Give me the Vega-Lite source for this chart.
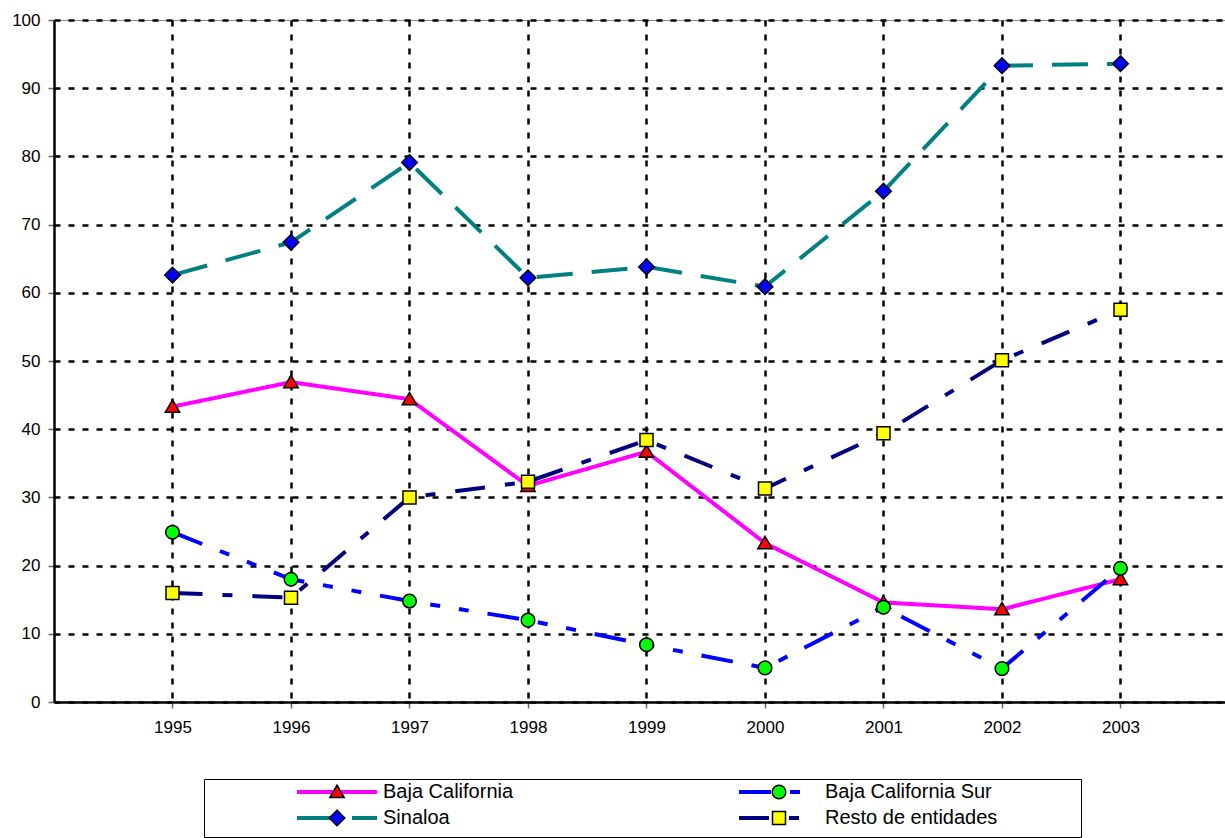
{
  "$schema": "https://vega.github.io/schema/vega-lite/v6.json",
  "width": 1171,
  "height": 682,
  "autosize": {"type": "none"},
  "padding": {"left": 54, "top": 20, "right": 0, "bottom": 136},
  "background": "white",
  "config": {
    "view": {"stroke": "#888888", "strokeWidth": 1},
    "font": "Liberation Sans",
    "axis": {"labelFont": "Liberation Sans"},
    "legend": {"labelFont": "Liberation Sans", "titleFont": "Liberation Sans"}
  },
  "data": {
    "values": [
      {"year": 1995, "series": "Baja California", "value": 43.3},
      {"year": 1996, "series": "Baja California", "value": 46.9},
      {"year": 1997, "series": "Baja California", "value": 44.4},
      {"year": 1998, "series": "Baja California", "value": 31.7},
      {"year": 1999, "series": "Baja California", "value": 36.7},
      {"year": 2000, "series": "Baja California", "value": 23.3},
      {"year": 2001, "series": "Baja California", "value": 14.6},
      {"year": 2002, "series": "Baja California", "value": 13.6},
      {"year": 2003, "series": "Baja California", "value": 18.0},
      {"year": 1995, "series": "Baja California Sur", "value": 24.9},
      {"year": 1996, "series": "Baja California Sur", "value": 18.0},
      {"year": 1997, "series": "Baja California Sur", "value": 14.8},
      {"year": 1998, "series": "Baja California Sur", "value": 12.0},
      {"year": 1999, "series": "Baja California Sur", "value": 8.4},
      {"year": 2000, "series": "Baja California Sur", "value": 5.0},
      {"year": 2001, "series": "Baja California Sur", "value": 13.9},
      {"year": 2002, "series": "Baja California Sur", "value": 4.9},
      {"year": 2003, "series": "Baja California Sur", "value": 19.6},
      {"year": 1995, "series": "Sinaloa", "value": 62.6},
      {"year": 1996, "series": "Sinaloa", "value": 67.4},
      {"year": 1997, "series": "Sinaloa", "value": 79.1},
      {"year": 1998, "series": "Sinaloa", "value": 62.2},
      {"year": 1999, "series": "Sinaloa", "value": 63.8},
      {"year": 2000, "series": "Sinaloa", "value": 60.9},
      {"year": 2001, "series": "Sinaloa", "value": 74.9},
      {"year": 2002, "series": "Sinaloa", "value": 93.3},
      {"year": 2003, "series": "Sinaloa", "value": 93.6},
      {"year": 1995, "series": "Resto de entidades", "value": 16.0},
      {"year": 1996, "series": "Resto de entidades", "value": 15.3},
      {"year": 1997, "series": "Resto de entidades", "value": 30.0},
      {"year": 1998, "series": "Resto de entidades", "value": 32.3},
      {"year": 1999, "series": "Resto de entidades", "value": 38.4},
      {"year": 2000, "series": "Resto de entidades", "value": 31.3},
      {"year": 2001, "series": "Resto de entidades", "value": 39.4},
      {"year": 2002, "series": "Resto de entidades", "value": 50.1},
      {"year": 2003, "series": "Resto de entidades", "value": 57.5}
    ]
  },
  "encoding": {
    "x": {
      "field": "year",
      "type": "quantitative",
      "scale": {"domain": [1994, 2003.882], "nice": false, "zero": false},
      "axis": {
        "values": [1995, 1996, 1997, 1998, 1999, 2000, 2001, 2002, 2003],
        "format": "d",
        "title": null,
        "grid": true,
        "gridColor": "black",
        "gridDash": [6, 8],
        "gridWidth": 2.5,
        "gridOpacity": 1,
        "domainColor": "black",
        "domainWidth": 2.5,
        "tickColor": "#666666",
        "tickSize": 6,
        "tickWidth": 1.5,
        "labelFontSize": 17,
        "labelColor": "black",
        "labelPadding": 11,
        "labelFlush": false
      }
    },
    "y": {
      "field": "value",
      "type": "quantitative",
      "scale": {"domain": [0, 100], "nice": false},
      "axis": {
        "values": [0, 10, 20, 30, 40, 50, 60, 70, 80, 90, 100],
        "title": null,
        "grid": true,
        "gridColor": "black",
        "gridDash": [6, 8],
        "gridWidth": 2.5,
        "gridOpacity": 1,
        "domainColor": "black",
        "domainWidth": 2.5,
        "tickColor": "#666666",
        "tickSize": 6,
        "tickWidth": 1.5,
        "labelFontSize": 17,
        "labelColor": "black",
        "labelPadding": 8,
        "labelFlush": false
      }
    }
  },
  "layer": [
    {
      "mark": {"type": "line", "strokeWidth": 4, "opacity": 1},
      "encoding": {
        "color": {
          "field": "series",
          "type": "nominal",
          "scale": {
            "domain": ["Baja California", "Sinaloa", "Baja California Sur", "Resto de entidades"],
            "range": ["#FF00FF", "#008080", "#0000FF", "#000080"]
          },
          "legend": {
            "title": null,
            "orient": "none",
            "legendX": 150,
            "legendY": 759,
            "columns": 2,
            "columnPadding": 135,
            "rowPadding": 6,
            "padding": 3,
            "clipHeight": 20,
            "symbolType": "M-4,0H4",
            "symbolSize": 400,
            "symbolStrokeWidth": 4,
            "symbolOffset": 118,
            "labelOffset": 34,
            "labelFontSize": 20,
            "labelColor": "black",
            "labelLimit": 600,
            "gridAlign": "each"
          }
        },
        "strokeDash": {
          "field": "series",
          "type": "nominal",
          "scale": {
            "domain": ["Baja California", "Sinaloa", "Baja California Sur", "Resto de entidades"],
            "range": [[1, 0], [36, 19], [32, 19, 10, 19, 10, 19], [30, 20, 10, 20]]
          },
          "legend": {
            "title": null,
            "orient": "none",
            "legendX": 150,
            "legendY": 759,
            "columns": 2,
            "columnPadding": 135,
            "rowPadding": 6,
            "padding": 3,
            "clipHeight": 20,
            "symbolType": "M-4,0H4",
            "symbolSize": 400,
            "symbolStrokeWidth": 4,
            "symbolOffset": 118,
            "labelOffset": 34,
            "labelFontSize": 20,
            "labelColor": "black",
            "labelLimit": 600,
            "gridAlign": "each"
          }
        }
      }
    },
    {
      "mark": {"type": "point", "filled": true, "size": 400, "strokeWidth": 1.5, "opacity": 1},
      "encoding": {
        "fill": {
          "field": "series",
          "type": "nominal",
          "scale": {
            "domain": ["Baja California", "Sinaloa", "Baja California Sur", "Resto de entidades", "-"],
            "range": ["#FF0000", "#0000FF", "#00FF00", "#FFFF00", "#FFFFFF"]
          },
          "legend": {
            "values": ["Baja California", "Sinaloa", "Baja California Sur", "Resto de entidades"],
            "title": " ",
            "titleOrient": "bottom",
            "titleFontSize": 6,
            "titlePadding": 0,
            "orient": "none",
            "legendX": 150,
            "legendY": 759,
            "columns": 2,
            "columnPadding": 135,
            "rowPadding": 6,
            "padding": 3,
            "clipHeight": 20,
            "symbolSize": 400,
            "symbolStrokeWidth": 1.5,
            "symbolOpacity": 1,
            "symbolOffset": 119,
            "labelOffset": 35,
            "labelFontSize": 20,
            "labelOpacity": 0,
            "labelLimit": 800,
            "labelExpr": "datum.label == 'Resto de entidades' ? datum.label + '\u00a0\u00a0\u00a0\u00a0\u00a0\u00a0\u00a0\u00a0\u00a0\u00a0\u00a0\u00a0X' : datum.label",
            "strokeColor": "black",
            "gridAlign": "each"
          }
        },
        "stroke": {
          "field": "series",
          "type": "nominal",
          "scale": {
            "domain": ["Baja California", "Sinaloa", "Baja California Sur", "Resto de entidades", "-"],
            "range": ["#000000", "#000000", "#000000", "#000000", "#000000"]
          },
          "legend": {
            "values": ["Baja California", "Sinaloa", "Baja California Sur", "Resto de entidades"],
            "title": " ",
            "titleOrient": "bottom",
            "titleFontSize": 6,
            "titlePadding": 0,
            "orient": "none",
            "legendX": 150,
            "legendY": 759,
            "columns": 2,
            "columnPadding": 135,
            "rowPadding": 6,
            "padding": 3,
            "clipHeight": 20,
            "symbolSize": 400,
            "symbolStrokeWidth": 1.5,
            "symbolOpacity": 1,
            "symbolOffset": 119,
            "labelOffset": 35,
            "labelFontSize": 20,
            "labelOpacity": 0,
            "labelLimit": 800,
            "labelExpr": "datum.label == 'Resto de entidades' ? datum.label + '\u00a0\u00a0\u00a0\u00a0\u00a0\u00a0\u00a0\u00a0\u00a0\u00a0\u00a0\u00a0X' : datum.label",
            "strokeColor": "black",
            "gridAlign": "each"
          }
        },
        "shape": {
          "field": "series",
          "type": "nominal",
          "scale": {
            "domain": ["Baja California", "Sinaloa", "Baja California Sur", "Resto de entidades", "-"],
            "range": [
              "M0,-0.68L0.72,0.56L-0.72,0.56Z",
              "M0,-0.78L0.78,0L0,0.78L-0.78,0Z",
              "M0.68,0A0.68,0.68,0,1,1,-0.68,0A0.68,0.68,0,1,1,0.68,0Z",
              "M-0.65,-0.65H0.65V0.65H-0.65Z",
              "M0,0"
            ]
          },
          "legend": {
            "values": ["Baja California", "Sinaloa", "Baja California Sur", "Resto de entidades"],
            "title": " ",
            "titleOrient": "bottom",
            "titleFontSize": 6,
            "titlePadding": 0,
            "orient": "none",
            "legendX": 150,
            "legendY": 759,
            "columns": 2,
            "columnPadding": 135,
            "rowPadding": 6,
            "padding": 3,
            "clipHeight": 20,
            "symbolSize": 400,
            "symbolStrokeWidth": 1.5,
            "symbolOpacity": 1,
            "symbolOffset": 119,
            "labelOffset": 35,
            "labelFontSize": 20,
            "labelOpacity": 0,
            "labelLimit": 800,
            "labelExpr": "datum.label == 'Resto de entidades' ? datum.label + '\u00a0\u00a0\u00a0\u00a0\u00a0\u00a0\u00a0\u00a0\u00a0\u00a0\u00a0\u00a0X' : datum.label",
            "strokeColor": "black",
            "gridAlign": "each"
          }
        }
      }
    }
  ]
}
